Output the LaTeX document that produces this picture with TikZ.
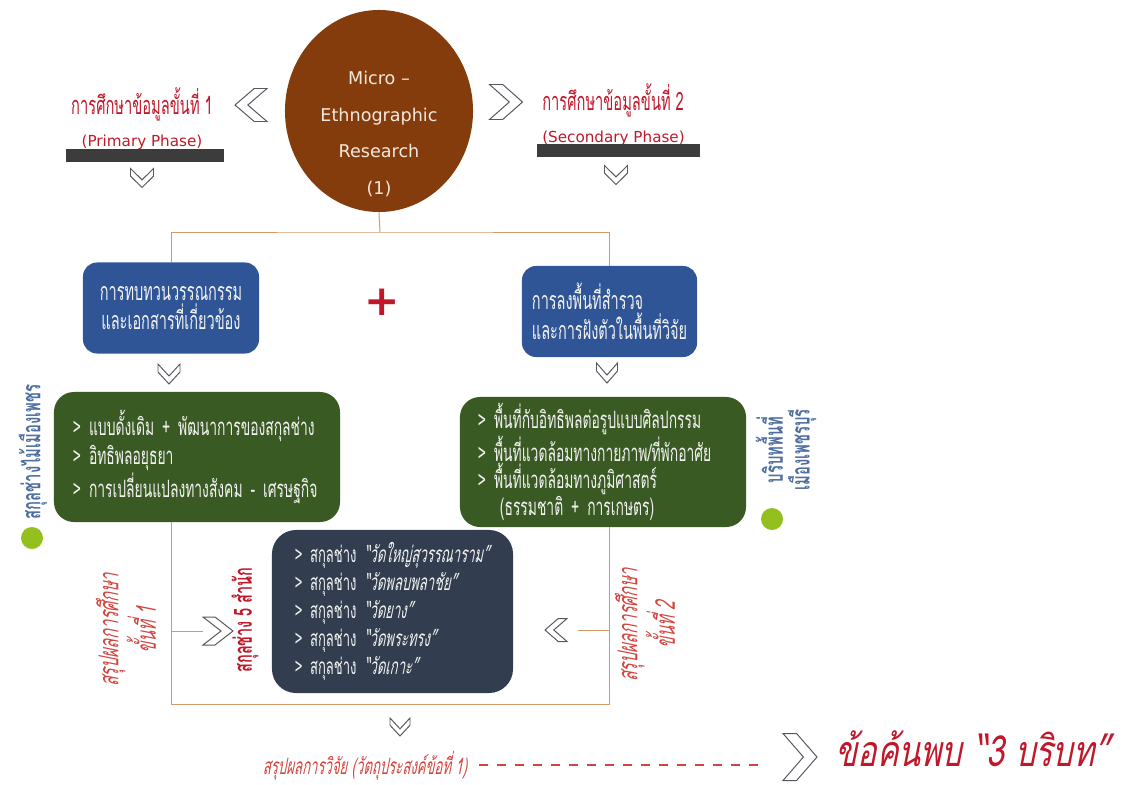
\documentclass[tikz,border=0pt]{standalone}
\usepackage{fontspec}
\setmainfont{DejaVu Sans}
\newfontfamily\thai[Script=Thai,FakeStretch=0.58]{Loma}
\newfontfamily\thaisl[Script=Thai,FakeStretch=0.58,FakeSlant=0.2]{Loma}
\newfontfamily\thaiwide[Script=Thai,FakeStretch=0.75,FakeSlant=0.2]{Loma}
\usetikzlibrary{shapes.geometric}
\definecolor{brownfill}{HTML}{843C0C}
\definecolor{cream}{HTML}{F4E9DD}
\definecolor{bluefill}{HTML}{2F5597}
\definecolor{greenfill}{HTML}{3A5A23}
\definecolor{slatefill}{HTML}{323E4F}
\definecolor{boxtext}{HTML}{F2F2F2}
\definecolor{tanline}{HTML}{D09A6A}
\definecolor{chevgray}{HTML}{55585E}
\definecolor{bargray}{HTML}{3C3C3C}
\definecolor{labelred}{HTML}{C0182A}
\definecolor{softred}{HTML}{D2453F}
\definecolor{sideblue}{HTML}{4E6E9F}
\definecolor{dotgreen}{HTML}{93C01F}
\tikzset{chevron/.pic={
  \draw[chevgray, fill=white, line width=0.7pt] (1,0) -- (-0.2,1) -- (-1,1) -- (0.2,0) -- (-1,-1) -- (-0.2,-1) -- cycle;
  \coordinate (-tip) at (1,0);
  \coordinate (-back) at (-1,0);
}}

\begin{document}
\begin{tikzpicture}[x=0.025cm, y=-0.025cm,
  every node/.style={inner sep=0pt},
  box/.style={text=boxtext, rounded corners=0.35cm},
  bluebox/.style={box, fill=bluefill, minimum width=4.4cm, minimum height=2.275cm, font=\thai\fontsize{17.8}{21}\selectfont},
  greenbox/.style={box, fill=greenfill, rounded corners=0.5cm, minimum width=7.15cm, minimum height=3.25cm, align=left},
  slatebox/.style={box, fill=slatefill, rounded corners=0.6cm, minimum width=6.025cm, minimum height=4.075cm, text width=4.875cm, align=left, font=\thai\fontsize{16}{19.8}\selectfont},
  bar/.style={fill=bargray, minimum height=0.325cm},
  link/.style={draw=tanline, line width=0.7pt},
  dot/.style={circle, fill=dotgreen, minimum size=0.55cm},
  phase/.style={text=labelred, font=\fontsize{10.8}{22.7}\selectfont},
  side/.style={rotate=90, text=sideblue, align=center, font=\thai\bfseries\fontsize{18.2}{19}\selectfont},
  summ/.style={rotate=90, text=softred, align=center, font=\thaisl\fontsize{19.5}{19.5}\selectfont}]
\useasboundingbox (0,0) rectangle (1125,784);

\node[ellipse, fill=brownfill, minimum width=4.7cm, minimum height=5.05cm] (micro) at (379,111) {};
\node[text=cream, align=center, font=\fontsize{12.5}{26}\selectfont] (microtext) at ([yshift=-0.575cm]micro.center) {Micro –\\Ethnographic\\Research\\(1)};

\pic[rotate=180, xscale=16, yscale=16.5] (chevA) at (251,105) {chevron};
\pic[xscale=16.5, yscale=17.5] (chevB) at (506,102) {chevron};
\node[phase, align=center] (phaseA) at (142,119) {{\thai\fontsize{18}{22.7}\selectfont การศึกษาข้อมูลขั้นที่ 1}\\(Primary Phase)};
\node[phase, align=left, anchor=west] (phaseB) at (542,115) {{\thai\fontsize{18}{22.7}\selectfont การศึกษาข้อมูลขั้นที่ 2}\\(Secondary Phase)};
\node[bar, minimum width=3.95cm] (barA) at (145,155) {};
\node[bar, minimum width=4.075cm] (barB) at (618.5,150) {};
\pic[rotate=-90, xscale=9.5, yscale=11.5] (dnA) at (142,178) {chevron};
\pic[rotate=-90, xscale=9.5, yscale=11.5] (dnB) at (616,175) {chevron};

\node[bluebox, align=center] (review) at (171,308) {การทบทวนวรรณกรรม\\และเอกสารที่เกี่ยวข้อง};
\node[bluebox, minimum width=4.375cm, text width=3.875cm, align=left] (field) at (609.5,311.5) {การลงพื้นที่สำรวจ\\และการฝังตัวในพื้นที่วิจัย};
\node[text=labelred, font=\bfseries\fontsize{30}{30}\selectfont] (plus) at (382,302) {+};
\pic[rotate=-90, xscale=10, yscale=11] (dnC) at (169,374) {chevron};
\pic[rotate=-90, xscale=10, yscale=10.5] (dnD) at (607,373) {chevron};

\node[greenbox, text width=6.2cm, font=\thai\fontsize{17}{20.6}\selectfont] (history) at (197,457) {> แบบดั้งเดิม + พัฒนาการของสกุลช่าง\\> อิทธิพลอยุธยา\\> การเปลี่ยนแปลงทางสังคม - เศรษฐกิจ};
\node[greenbox, text width=6.25cm, font=\thai\fontsize{17}{16.7}\selectfont] (context) at (603,462) {> พื้นที่กับอิทธิพลต่อรูปแบบศิลปกรรม\\> พื้นที่แวดล้อมทางกายภาพ/ที่พักอาศัย\\> พื้นที่แวดล้อมทางภูมิศาสตร์\\\hspace*{0.55cm}(ธรรมชาติ + การเกษตร)};
\node[side] (sideA) at (33,452) {สกุลช่างไม้เมืองเพชร};
\node[dot] (dotA) at (32,538) {};
\node[side] (sideB) at (786,450) {บริบทพื้นที่\\เมืองเพชรบุรี};
\node[dot] (dotB) at (772,519) {};

\node[slatebox] (schools) at (392.5,611.5) {> สกุลช่าง {\thaisl “วัดใหญ่สุวรรณาราม”}\\> สกุลช่าง {\thaisl “วัดพลบพลาชัย”}\\> สกุลช่าง {\thaisl “วัดยาง”}\\> สกุลช่าง {\thaisl “วัดพระทรง”}\\> สกุลช่าง {\thaisl “วัดเกาะ”}};
\node[rotate=90, text=labelred, font=\thai\bfseries\fontsize{17.8}{18}\selectfont] (five) at (245,620) {สกุลช่าง 5 สำนัก};
\node[summ] (sumA) at (126,630) {สรุปผลการศึกษา\\ขั้นที่ 1};
\node[summ] (sumB) at (645,625) {สรุปผลการศึกษา\\ขั้นที่ 2};
\pic[xscale=15, yscale=14] (chevC) at (218,631) {chevron};
\pic[rotate=180, xscale=11, yscale=11.5] (chevD) at (556,630) {chevron};

\pic[rotate=-90, xscale=9, yscale=10] (dnE) at (400,727) {chevron};
\node[text=softred, anchor=base, font=\thaisl\fontsize{16.1}{17}\selectfont] (summary) at (365,774) {สรุปผลการวิจัย (วัตถุประสงค์ข้อที่ 1)};
\pic[xscale=17, yscale=23.5] (chevE) at (800,757) {chevron};
\node[text=labelred, anchor=base, font=\thaiwide\fontsize{30.5}{32}\selectfont] (findings) at (973,766) {ข้อค้นพบ “3 บริบท”};

\coordinate (split) at (380,232);
\coordinate (merge) at (390,704);
\draw[link] (micro.south) -- (split);
\draw[link] (review.north) |- (split) -| (field.north);
\draw[link] (review |- history.south) |- (merge) -| (field |- context.south);
\draw[link] (review |- chevC-back) -- (chevC-back);
\draw[link, shorten >=0.28cm] (field |- chevD-back) -- (chevD-back);
\draw[softred, line width=1.2pt, dash pattern=on 0.225cm off 0.225cm, shorten <=0.3cm, shorten >=0.45cm] (summary.east) -- (summary.east -| chevE-back);
\end{tikzpicture}
\end{document}
